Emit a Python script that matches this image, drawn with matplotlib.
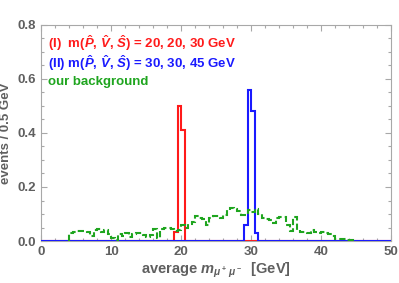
import matplotlib
matplotlib.use("Agg")
import matplotlib.pyplot as plt
from matplotlib.ticker import MultipleLocator
import numpy as np

# histogram data (0.5 GeV bins)
bin_width = 0.5
x_range = (0, 50)

sig1_start = 19.0
sig1_counts = [0.035, 0.50, 0.41]

sig2_start = 29.0
sig2_counts = [0.06, 0.56, 0.48, 0.03]

bkg_start = 4.0
bkg_counts = [0.030, 0.033, 0.036, 0.038, 0.038, 0.034, 0.020, 0.040, 0.044, 0.034,
              0.040, 0.025, 0.012, 0.002, 0.026, 0.018, 0.030, 0.014, 0.026, 0.030,
              0.030, 0.024, 0.016, 0.024, 0.043, 0.010, 0.044, 0.047, 0.047, 0.046,
              0.038, 0.040, 0.058, 0.047, 0.063, 0.072, 0.094, 0.084, 0.080, 0.060,
              0.084, 0.094, 0.094, 0.086, 0.096, 0.115, 0.121, 0.118, 0.112, 0.096,
              0.098, 0.115, 0.108, 0.120, 0.100, 0.085, 0.083, 0.077, 0.065, 0.085,
              0.090, 0.088, 0.060, 0.037, 0.090, 0.040, 0.035, 0.035, 0.028, 0.040,
              0.032, 0.030, 0.033, 0.030, 0.025, 0.020, 0.008, 0.008, 0.008, 0.004,
              0.004]

labels = [r'(I)  m($\hat{P}$, $\hat{V}$, $\hat{S}$) = 20, 20, 30 GeV',
          r'(II) m($\hat{P}$, $\hat{V}$, $\hat{S}$) = 30, 30, 45 GeV',
          'our background']

RED = '#ff1a1a'
BLUE = '#1a1aff'
GREEN = '#1fa51f'
GRAY = '#5f5f5f'

plt.rcParams['font.family'] = 'Liberation Sans'
plt.rcParams['font.weight'] = 'bold'
plt.rcParams['axes.labelweight'] = 'bold'
plt.rcParams['mathtext.fontset'] = 'custom'
plt.rcParams['mathtext.rm'] = 'Liberation Sans:bold'
plt.rcParams['mathtext.it'] = 'Liberation Sans:italic:bold'
plt.rcParams['mathtext.bf'] = 'Liberation Sans:bold'


def full_hist(start, counts):
    edges = np.arange(x_range[0], x_range[1] + bin_width / 2, bin_width)
    vals = np.zeros(len(edges) - 1)
    i0 = int(round((start - x_range[0]) / bin_width))
    vals[i0:i0 + len(counts)] = counts
    return vals, edges


fig = plt.figure(figsize=(3.99, 2.83), dpi=100)
ax = fig.add_axes([0.1028, 0.1484, 0.8772, 0.7633])

v1, e1 = full_hist(sig1_start, sig1_counts)
v2, e2 = full_hist(sig2_start, sig2_counts)
bkg_edges = bkg_start + bin_width * np.arange(len(bkg_counts) + 1)

ax.stairs(v1, e1, color=RED, linewidth=1.5, zorder=2)
ax.stairs(v2, e2, color=BLUE, linewidth=1.5, zorder=3)
ax.stairs(bkg_counts, bkg_edges, color=GREEN, linewidth=1.5,
          linestyle=(0, (3, 1.5)), zorder=4)

ax.set_xlim(*x_range)
ax.set_ylim(0, 0.8)
ax.xaxis.set_major_locator(MultipleLocator(10))
ax.xaxis.set_minor_locator(MultipleLocator(2))
ax.yaxis.set_major_locator(MultipleLocator(0.2))
ax.yaxis.set_minor_locator(MultipleLocator(0.05))
ax.yaxis.set_major_formatter(lambda v, p: f'{v:.1f}')

for s in ax.spines.values():
    s.set_color('#a8a8a8')
    s.set_linewidth(0.8)
ax.tick_params(which='both', direction='in', top=True, right=True,
               color='#a8a8a8', labelcolor=GRAY, labelsize=9.5, width=0.8)
ax.tick_params(which='major', length=4)
ax.tick_params(which='minor', length=2)
for lab in ax.get_xticklabels() + ax.get_yticklabels():
    lab.set_fontweight('bold')

ax.set_xlabel(r'average $m_{\mu^+\,\mu^-}$  [GeV]', color=GRAY, fontsize=10.5, labelpad=2)
ax.set_ylabel('events / 0.5 GeV', color=GRAY, fontsize=9.5, labelpad=4)

for txt, col, yy in zip(labels, [RED, BLUE, GREEN], [0.917, 0.824, 0.736]):
    ax.text(0.02, yy, txt, color=col, fontsize=9.5, transform=ax.transAxes,
            ha='left', va='center')

fig.savefig('out.png', dpi=100)
